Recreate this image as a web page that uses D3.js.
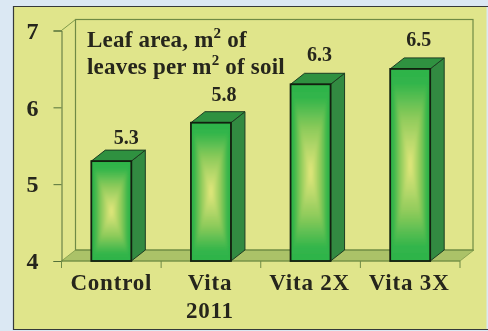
<!DOCTYPE html>
<html>
<head>
<meta charset="utf-8">
<script src="https://cdn.jsdelivr.net/npm/d3@7"></script>
<style>
    html, body { margin: 0; padding: 0; background: #dbe8f3; overflow: hidden; }
    text { font-family: "Liberation Serif", serif; font-weight: bold; fill: #25251b; }
</style>
</head>
<body>
<div id="plot"></div>
<script>
"use-strict";

const categories = ["Control", "Vita 2011", "Vita 2X", "Vita 3X"];
const leafArea = [5.3, 5.8, 6.3, 6.5];
const valueLabels = ["5.3", "5.8", "6.3", "6.5"];
const yTicks = [4, 5, 6, 7];

const msm = {
    width: 488,
    height: 331,
    left: 61.5,
    right: 460,
    top: 30.5,
    bottom: 261,
    depthX: 14,
    depthY: 11,
    barWidth: 40,
}

// the value labels are hand placed in the original
const labelDx = [15, 13, 9, 8.5];
const labelDy = [-17, -22, -23, -23];

const svg = d3.select("#plot")
    .append("svg")
    .attr("width", msm.width)
    .attr("height", msm.height)
    .style("display", "block");

const xScale = d3.scaleBand()
    .domain(categories)
    .range([msm.left, msm.right]);

const yScale = d3.scaleLinear()
    .domain([4, 7])
    .range([msm.bottom, msm.top]);

// soft edge, the source is a scanned print
const defs = svg.append("defs");
defs.append("filter").attr("id", "soft")
    .append("feGaussianBlur").attr("stdDeviation", 0.4);
defs.append("filter").attr("id", "softer")
    .append("feGaussianBlur").attr("stdDeviation", 1.6);

drawPanel();
drawWalls();
drawAxes();
drawBars();
drawLabels();

function drawPanel() {
    svg.append("rect")
        .attr("x", 13.5)
        .attr("y", 6.5)
        .attr("width", msm.width - 13.5)
        .attr("height", 323)
        .attr("fill", "#e0e58b");
    svg.append("path")
        .attr("d", "M" + msm.width + ",6.5H13.5V329.5H" + msm.width)
        .attr("fill", "none")
        .attr("stroke", "#35393a")
        .attr("stroke-width", 1.2);
    svg.append("rect")
        .attr("x", 486.5)
        .attr("y", 7)
        .attr("width", 1.5)
        .attr("height", 322)
        .attr("fill", "#dbe8f3");
}

function drawWalls() {
    const dx = msm.depthX, dy = msm.depthY;
    // floor
    svg.append("path")
        .attr("d", "M" + msm.left + "," + msm.bottom
            + "L" + (msm.left + dx) + "," + (msm.bottom - dy)
            + "H" + (msm.right + dx)
            + "L" + msm.right + "," + msm.bottom + "Z")
        .attr("fill", "#abc268")
        .attr("stroke", "#7f9a4a")
        .attr("stroke-width", 0.8);
    // back wall
    svg.append("rect")
        .attr("x", msm.left + dx)
        .attr("y", msm.top - dy)
        .attr("width", msm.right - msm.left - 1)
        .attr("height", msm.bottom - msm.top)
        .attr("fill", "none")
        .attr("stroke", "#6f8a45")
        .attr("stroke-width", 1.2);
    // side edge from front axis up to back wall
    svg.append("line")
        .attr("x1", msm.left)
        .attr("y1", msm.top)
        .attr("x2", msm.left + dx)
        .attr("y2", msm.top - dy)
        .attr("stroke", "#7f9a4a")
        .attr("stroke-width", 1);
}

function drawAxes() {
    const yAxis = d3.axisLeft(yScale)
        .tickValues(yTicks)
        .tickSize(8)
        .tickPadding(15)
        .tickFormat(d3.format("d"));
    const yGroup = svg.append("g")
        .attr("transform", "translate(" + msm.left + ",0)")
        .call(yAxis);
    yGroup.selectAll("path").attr("stroke", "#54703a").attr("stroke-width", 1);
    yGroup.selectAll("line").attr("stroke", "#54703a");
    yGroup.selectAll("text")
        .attr("font-size", 24)
        .attr("font-family", "Liberation Serif")
        .attr("filter", "url(#soft)");

    // band edges carry the ticks on this axis
    const edges = categories.map(c => xScale(c)).concat([msm.right]);
    svg.append("g").selectAll("line")
        .data(edges)
        .enter()
        .append("line")
        .attr("x1", d => d)
        .attr("x2", d => d)
        .attr("y1", msm.bottom)
        .attr("y2", msm.bottom + 7)
        .attr("stroke", "#6f8a45")
        .attr("stroke-width", 1);
    svg.append("line")
        .attr("x1", msm.left)
        .attr("x2", msm.right)
        .attr("y1", msm.bottom)
        .attr("y2", msm.bottom)
        .attr("stroke", "#6f8a45")
        .attr("stroke-width", 1);
}

function drawBars() {
    const dx = msm.depthX, dy = msm.depthY, w = msm.barWidth;
    const steps = d3.range(0, 1, 1 / 36);
    const shade = d3.scaleLinear()
        .domain([0, 0.14, 0.5, 1])
        .range(["#2db44a", "#33b54b", "#8fcb5b", "#e8e87e"]);

    const bars = svg.append("g").selectAll("g")
        .data(categories)
        .enter()
        .append("g")
        .attr("transform", d => "translate(" + (xScale(d) + (xScale.bandwidth() - w) / 2) + ",0)");

    bars.each(function (d, i) {
        const g = d3.select(this);
        const top = yScale(leafArea[i]);
        const h = msm.bottom - top;

        // side face
        g.append("path")
            .attr("d", "M" + w + "," + top + "l" + dx + "," + (-dy)
                + "V" + (msm.bottom - dy) + "L" + w + "," + msm.bottom + "Z")
            .attr("fill", "#328a41")
            .attr("stroke", "#1d3d22")
            .attr("stroke-width", 1);
        // top face
        g.append("path")
            .attr("d", "M0," + top + "l" + dx + "," + (-dy) + "h" + w
                + "l" + (-dx) + "," + dy + "Z")
            .attr("fill", "#2f9140")
            .attr("stroke", "#1d3d22")
            .attr("stroke-width", 1);

        // front face, concentric rects make the boxed gradient
        g.append("clipPath").attr("id", "front" + i)
            .append("rect")
            .attr("x", 0)
            .attr("y", top)
            .attr("width", w)
            .attr("height", h);
        g.append("rect")
            .attr("x", 0)
            .attr("y", top)
            .attr("width", w)
            .attr("height", h)
            .attr("fill", shade(0));
        const front = g.append("g")
            .attr("clip-path", "url(#front" + i + ")")
            .append("g")
            .attr("filter", "url(#softer)");
        front.selectAll("rect")
            .data(steps)
            .enter()
            .append("rect")
            .attr("x", t => t * w / 2)
            .attr("y", t => top + t * h / 2)
            .attr("width", t => w * (1 - t))
            .attr("height", t => h * (1 - t))
            .attr("fill", t => shade(t));
        g.append("rect")
            .attr("x", 0)
            .attr("y", top)
            .attr("width", w)
            .attr("height", h)
            .attr("fill", "none")
            .attr("stroke", "#12200f")
            .attr("stroke-width", 1.8);
    });
}

function drawLabels() {
    // values over bars
    svg.append("g").selectAll("text")
        .data(valueLabels)
        .enter()
        .append("text")
        .attr("x", (d, i) => xScale(categories[i]) + xScale.bandwidth() / 2 + labelDx[i])
        .attr("y", (d, i) => yScale(leafArea[i]) + labelDy[i])
        .attr("text-anchor", "middle")
        .attr("font-size", 20)
        .attr("filter", "url(#soft)")
        .text(d => d);

    // category labels, Vita 2011 wraps
    categories.forEach(function (c) {
        const parts = c === "Vita 2011" ? ["Vita", "2011"] : [c];
        parts.forEach(function (p, j) {
            svg.append("text")
                .attr("x", xScale(c) + xScale.bandwidth() / 2 - (c === "Control" ? 0 : 1))
                .attr("y", 290 + j * 28)
                .attr("text-anchor", "middle")
                .attr("font-size", 23)
                .attr("letter-spacing", 0.8)
                .attr("filter", "url(#soft)")
                .text(p);
        });
    });

    // title, two lines with superscripts
    const titleLines = [["Leaf area, m", "2", " of"], ["leaves per m", "2", " of soil"]];
    titleLines.forEach(function (line, i) {
        const t = svg.append("text")
            .attr("x", 87)
            .attr("y", 47 + i * 27)
            .attr("font-size", 23)
            .attr("letter-spacing", 0.2)
            .attr("filter", "url(#soft)");
        t.append("tspan").text(line[0]);
        t.append("tspan").attr("dy", -9).attr("font-size", 15).text(line[1]);
        t.append("tspan").attr("dy", 9).text(line[2]);
    });
}
</script>
</body>
</html>
